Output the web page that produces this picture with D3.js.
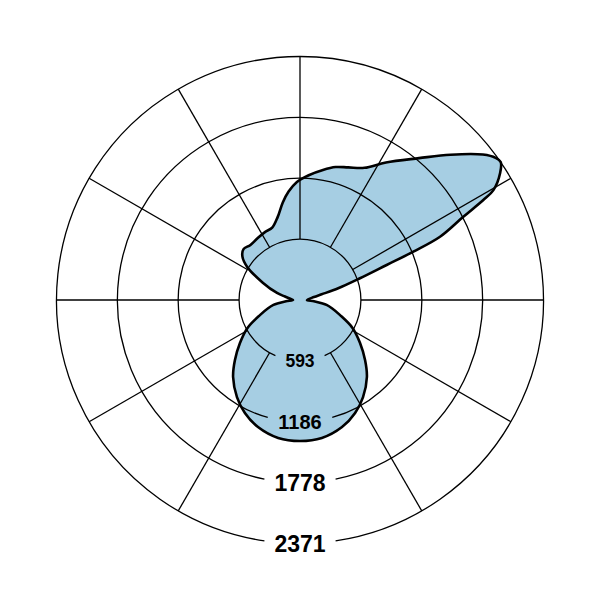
<html>
<head>
<script src="https://cdn.jsdelivr.net/npm/d3@7"></script>
<style>
  body { margin: 0; background: #fff; }
  svg text { font-family: "Liberation Sans", Arial, sans-serif; font-weight: bold; }
</style>
</head>
<body>
<svg id="polar" width="601" height="601"></svg>
<script>
// angle in degrees, clockwise from the top (0 = up, 90 = right, 180 = down)
const angles = [-90, -84, -77, -73, -65, -58, -53, -48, -42, -34, -27, -21, -15, -10, -6, -1.5,
  4, 10, 15, 20, 26, 32, 40, 46, 51.5, 54, 55.5, 57.6, 60.4, 61.4, 63, 65.7, 66.9, 68, 70.1,
  73, 75.3, 78, 90,
  95, 98.5, 100.5, 104.5, 110.5, 118, 125.6, 132.7, 139, 147, 154, 161.7, 171, 180,
  189, 198.3, 206, 213, 221, 227.3, 234.4, 242, 249.5, 255.5, 259.5, 261.5, 265];
// luminous intensity (cd)
const intensity = [68, 90, 150, 234, 400, 604, 702, 740, 721, 731, 745, 755, 838, 965, 1062, 1150,
  1218, 1286, 1340, 1374, 1432, 1579, 1803, 2037, 2275, 2355, 2371, 2308, 2166, 2033, 1785, 1496, 1200, 910, 621,
  389, 218, 139, 68,
  136, 214, 263, 321, 414, 579, 719, 862, 993, 1127, 1224, 1303, 1360, 1373,
  1360, 1303, 1224, 1127, 993, 862, 719, 579, 414, 321, 263, 214, 136];

const ringValues = [593, 1186, 1778, 2371];
const ringLabels = ["593", "1186", "1778", "2371"];
const spokeAngles = [0, 30, 60, 90, 120, 150, 210, 240, 270, 300, 330];

let svg = d3.select("svg#polar");
let cx = 300, cy = 300;
let g = svg.append("g").attr("transform", "translate(" + cx + "," + cy + ")");

let rScale = d3.scaleLinear()
    .domain([0, d3.max(ringValues)])
    .range([0, 243.5]);

const data = angles.map((a, i) => ({angle: a, value: intensity[i]}));

const line = d3.lineRadial()
    .angle(d => d.angle * Math.PI / 180)
    .radius(d => rScale(d.value))
    .curve(d3.curveCatmullRomClosed.alpha(0.5));

// filled curve
g.append("path")
    .datum(data)
    .attr("d", line)
    .attr("fill", "#a6cee3")
    .attr("stroke", "none");

// label sizes grow a bit outwards
const labelSize = [17.5, 20, 23, 23];
const charW = 0.556;

// rings, with a gap at the bottom for the label
ringValues.forEach((v, i) => {
    let r = rScale(v);
    let half = (ringLabels[i].length * charW * labelSize[i]) / 2 + 10;
    let gapA = Math.asin(Math.min(1, half / r));
    let p = d3.path();
    // canvas angles: 0 = right, PI/2 = down
    p.arc(0, 0, r, Math.PI / 2 + gapA, Math.PI / 2 - gapA + 2 * Math.PI);
    g.append("path")
        .attr("d", p.toString())
        .attr("fill", "none")
        .attr("stroke", "#000")
        .attr("stroke-width", 1.3);
});

// spokes from the first ring to the outer ring
g.selectAll(".spoke")
    .data(spokeAngles)
    .enter()
    .append("line")
    .attr("class", "spoke")
    .attr("x1", d => rScale(ringValues[0]) * Math.sin(d * Math.PI / 180))
    .attr("y1", d => -rScale(ringValues[0]) * Math.cos(d * Math.PI / 180))
    .attr("x2", d => rScale(d3.max(ringValues)) * Math.sin(d * Math.PI / 180))
    .attr("y2", d => -rScale(d3.max(ringValues)) * Math.cos(d * Math.PI / 180))
    .attr("stroke", "#000")
    .attr("stroke-width", 1.3);

// outline
g.append("path")
    .datum(data)
    .attr("d", line)
    .attr("fill", "none")
    .attr("stroke", "#000")
    .attr("stroke-width", 2.6)
    .attr("stroke-linejoin", "round");

// ring labels
g.selectAll(".ringLabel")
    .data(ringValues)
    .enter()
    .append("text")
    .attr("class", "ringLabel")
    .attr("x", 0)
    .attr("y", d => rScale(d))
    .attr("dy", "0.36em")
    .attr("text-anchor", "middle")
    .attr("font-size", (d, i) => labelSize[i])
    .attr("fill", "#000")
    .text((d, i) => ringLabels[i]);
</script>
</body>
</html>
